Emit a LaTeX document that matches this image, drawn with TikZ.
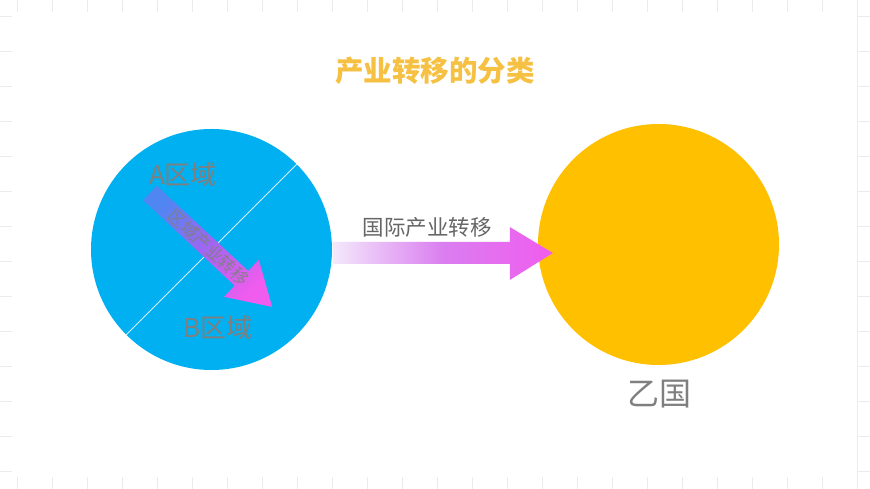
\documentclass[tikz,border=0pt]{standalone}
\usepackage{fontspec}
\newfontfamily\cjk{Noto Sans CJK SC}
\usepackage{tikz}
\usetikzlibrary{calc}

\definecolor{bluedisc}{HTML}{00B0F0}
\definecolor{golddisc}{HTML}{FFC000}
\definecolor{titlegold}{HTML}{F6C143}
\definecolor{labelgray}{HTML}{7F7F7F}
\definecolor{textgray}{HTML}{666666}
\definecolor{gridgray}{HTML}{EBEBEB}
\definecolor{arrowblue}{HTML}{4F86F2}
\definecolor{arrowviolet}{HTML}{A066F0}
\definecolor{arrowpink}{HTML}{F05CEE}
\definecolor{arrowpale}{HTML}{F4E8FB}
\definecolor{arrowlilac}{HTML}{DA7EF0}

\begin{document}
\begin{tikzpicture}[x=1pt, y=1pt,
  disc/.style={circle, inner sep=0pt, minimum size=241pt},
  regionlabel/.style={inner sep=0pt, text=labelgray, font=\cjk\fontsize{26pt}{26pt}\selectfont}]

\useasboundingbox (0,0) rectangle (870,489);

% faint grid, only its edges show
\draw[gridgray, line width=1pt, step=35pt, shift={(17,17)}] (-17,-17) grid (853,472);
\fill[white] (12,12) rectangle (856.5,477);

\node[titlegold, inner sep=0pt, font=\cjk\bfseries\fontsize{28.5pt}{28.5pt}\selectfont] (title) at (435,418) {产业转移的分类};

\node[disc, fill=bluedisc] (blue) at (211.5,239.5) {};
\draw[white!85!bluedisc, line width=0.8pt] (blue.45) -- (blue.225);

\node[regionlabel] (a) at (183,314) {A区域};
\node[regionlabel] (b) at (218,161) {B区域};

\coordinate (tail) at ($(blue.center)+(-61.5,56.5)$);
\begin{scope}[shift={(tail)}, rotate=-43]
  \shade[left color=arrowblue, right color=arrowpink, middle color=arrowviolet, shading angle=47]
    (0,10) -- (125,10) -- (125,25.5) -- (167,0) -- (125,-25.5) -- (125,-10) -- (0,-10) -- cycle;
  \node[inner sep=0pt, rotate=-43, text=labelgray, text opacity=0.85,
    font=\cjk\fontsize{17pt}{17pt}\selectfont] (inner) at (80,0) {区域产业转移};
\end{scope}

\node[disc, fill=golddisc] (gold) at (658.5,244.5) {};
\node[regionlabel, font=\cjk\fontsize{32pt}{32pt}\selectfont] (yi) at (659,95) {乙国};

\coordinate (from) at ($(blue.east)+(1,-3.5)$);
\coordinate (to) at ($(gold.west)+(15,-8.5)$);
\shade[left color=arrowpale, right color=arrowpink, middle color=arrowlilac]
  ($(from)+(0,11)$) -- ($(to)+(-43,11)$) -- ($(to)+(-43,26)$) -- (to)
  -- ($(to)+(-43,-27)$) -- ($(to)+(-43,-11)$) -- ($(from)+(0,-11)$) -- cycle;
\node[inner sep=0pt, text=textgray, font=\cjk\fontsize{21.5pt}{21.5pt}\selectfont] (cross) at (427,262) {国际产业转移};

\end{tikzpicture}
\end{document}
